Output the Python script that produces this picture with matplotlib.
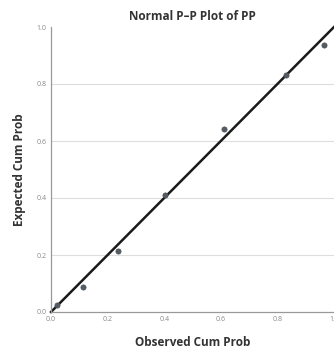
import matplotlib
matplotlib.use("Agg")
import matplotlib.pyplot as plt

observed = [0.02, 0.113, 0.238, 0.404, 0.61, 0.83, 0.964]
expected = [0.025, 0.088, 0.214, 0.41, 0.642, 0.832, 0.937]
ticks = [0.0, 0.2, 0.4, 0.6, 0.8, 1.0]
tick_labels = ["0.0", "0.2", "0.4", "0.6", "0.8", "1.0"]

plt.rcParams['font.family'] = ['Open Sans', 'DejaVu Sans']

fig = plt.figure(figsize=(3.34, 3.49), dpi=100)
ax = fig.add_axes([51/334, 37/349, 283/334, 285/349])

ax.plot([0, 1], [0, 1], color='#1a1a1a', lw=1.8, zorder=2, clip_on=False)
ax.scatter(observed, expected, s=14, color='#555b62', edgecolors='#4a5058',
           linewidths=0.5, zorder=3, clip_on=False)

ax.set_xlim(0, 1)
ax.set_ylim(0, 1)
ax.set_xticks(ticks)
ax.set_xticklabels(tick_labels)
ax.set_yticks(ticks)
ax.set_yticklabels(tick_labels)
ax.tick_params(length=0, labelsize=5, labelcolor='#888888', pad=3)
for y in ticks[1:-1]:
    ax.axhline(y, color='#dddddd', lw=0.8, zorder=1)

for s in ['top', 'right']:
    ax.spines[s].set_visible(False)
for s in ['left', 'bottom']:
    ax.spines[s].set_color('#999999')
    ax.spines[s].set_linewidth(0.9)

ax.set_title("Normal P–P Plot of PP", fontsize=8.5, fontweight='bold', color='#333333', pad=5)
ax.set_xlabel("Observed Cum Prob", fontsize=8.5, fontweight='bold', color='#333333', labelpad=9)
ax.set_ylabel("Expected Cum Prob", fontsize=8.5, fontweight='bold', color='#333333', labelpad=8)

fig.savefig("out.png", dpi=100, facecolor='white')
